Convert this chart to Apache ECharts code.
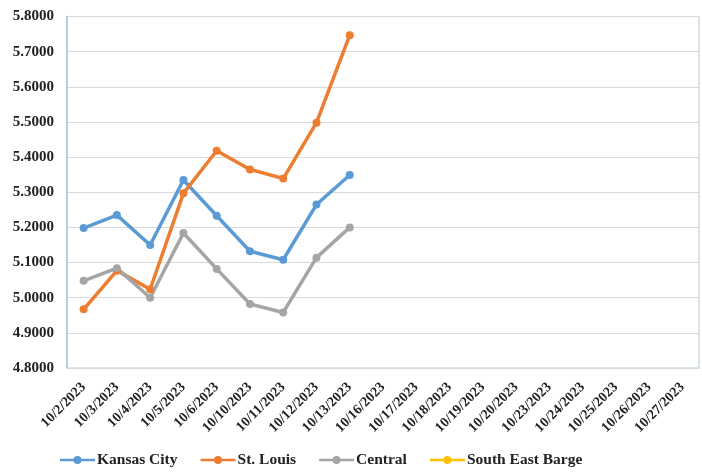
<!DOCTYPE html>
<html><head><meta charset="utf-8">
<script src="https://cdn.jsdelivr.net/npm/echarts@6/dist/echarts.min.js"></script>
<style>html,body{margin:0;padding:0;background:#fff}#c{width:702px;height:472px}</style>
</head><body><div id="c"></div>
<script>
var categories = ['10/2/2023','10/3/2023','10/4/2023','10/5/2023','10/6/2023','10/10/2023','10/11/2023','10/12/2023','10/13/2023','10/16/2023','10/17/2023','10/18/2023','10/19/2023','10/20/2023','10/23/2023','10/24/2023','10/25/2023','10/26/2023','10/27/2023'];
var kansasCity = [5.198,5.235,5.150,5.335,5.233,5.132,5.108,5.265,5.349,null,null,null,null,null,null,null,null,null,null];
var stLouis = [4.967,5.077,5.024,5.297,5.418,5.365,5.339,5.498,5.747,null,null,null,null,null,null,null,null,null,null];
var central = [5.048,5.084,5.000,5.184,5.082,4.982,4.958,5.114,5.200,null,null,null,null,null,null,null,null,null,null];
var southEastBarge = [null,null,null,null,null,null,null,null,null,null,null,null,null,null,null,null,null,null,null];
var seriesNames = ['Kansas City','St. Louis','Central','South East Barge'];
var colors = ['#5B9BD5','#ED7D31','#A5A5A5','#FFC000'];
var yMin = 4.8, yMax = 5.8, yStep = 0.1;

var font = '"Liberation Serif", "Times New Roman", serif';
var chart = echarts.init(document.getElementById('c'));
var data = [kansasCity, stLouis, central, southEastBarge];
chart.setOption({
  animation: false,
  color: colors,
  grid: {left: 67, right: 3, top: 16.5, bottom: 104, show: true, borderColor: '#b4ccd6', borderWidth: 1, containLabel: false},
  legend: {
    top: 447, left: 55, itemWidth: 35, itemHeight: 10, itemGap: 23,
    textStyle: {fontFamily: font, fontWeight: 'bold', fontSize: 15.5, color: '#222', padding: [0,0,0,-3]},
    data: seriesNames.map(function(n){return {name: n, icon: 'path://M0,4 L35,4 L35,6.5 L0,6.5 Z M17.5,1.2 A4,4 0 1 1 17.49,1.2 Z'};})
  },
  xAxis: {
    type: 'category', data: categories, boundaryGap: true,
    axisLine: {show: true, lineStyle: {color: '#d9d9d9'}},
    axisTick: {show: false},
    axisLabel: {rotate: 45, interval: 0, fontFamily: font, fontWeight: 'bold', fontSize: 14, color: '#222', margin: 17}
  },
  yAxis: {
    type: 'value', min: yMin, max: yMax, interval: yStep,
    axisLine: {show: true, lineStyle: {color: '#a9c8d8', width: 1.5}},
    axisTick: {show: false},
    splitLine: {lineStyle: {color: '#d9d9d9'}},
    axisLabel: {fontFamily: font, fontWeight: 'bold', fontSize: 15, color: '#222', margin: 13,
      formatter: function(v){return v.toFixed(4);}}
  },
  series: seriesNames.map(function(n, i){
    return {name: n, type: 'line', data: data[i], symbol: 'circle', symbolSize: 8,
      lineStyle: {width: 3.5}, connectNulls: false};
  })
});
</script></body></html>
